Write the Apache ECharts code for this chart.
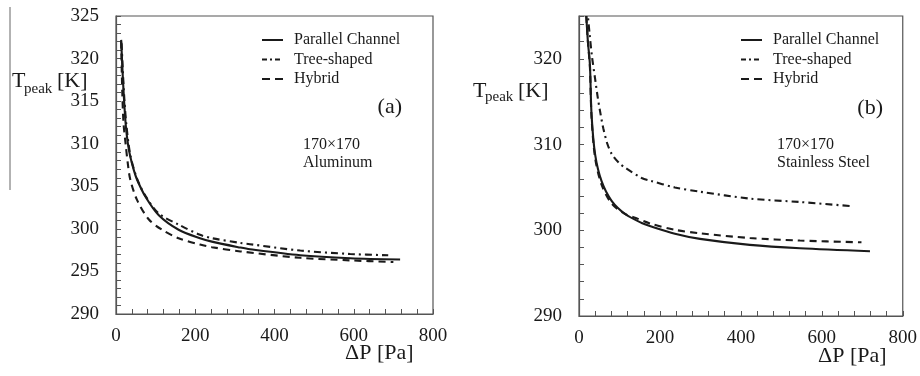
<!DOCTYPE html>
<html>
<head>
<meta charset="utf-8">
<script src="https://cdn.jsdelivr.net/npm/echarts@6/dist/echarts.min.js"></script>
<style>
  html, body { margin: 0; padding: 0; background: #fff; }
  #chart { width: 920px; height: 376px; }
</style>
</head>
<body>
<div id="chart"></div>
<script>
// series names
const seriesNames = ['Parallel Channel', 'Tree-shaped', 'Hybrid'];

// (a) 170x170 Aluminum  — ΔP [Pa] / Tpeak [K]
const aParallelDp = [13, 17, 21, 25, 30, 36, 45, 53, 74, 108, 158, 212, 242, 314, 338, 465, 591, 717];
const aParallelT  = [322.2, 318.0, 314.6, 312.0, 310.0, 308.5, 306.9, 305.8, 303.8, 301.6, 299.9, 298.9, 298.5, 297.8, 297.6, 296.9, 296.55, 296.4];
const aTreeDp = [14, 18, 21, 26, 36, 53, 74, 108, 158, 212, 242, 314, 338, 465, 591, 687];
const aTreeT  = [321.8, 317.8, 315.3, 312.3, 308.7, 305.9, 303.9, 301.8, 300.5, 299.3, 298.9, 298.35, 298.2, 297.45, 297.05, 296.9];
const aHybridDp = [13, 16, 19, 24, 30, 36, 53, 83, 116, 158, 212, 242, 314, 465, 591, 700];
const aHybridT  = [322.0, 315.8, 312.4, 310.1, 307.6, 305.8, 303.4, 301.1, 299.9, 298.9, 298.15, 297.85, 297.35, 296.6, 296.3, 296.1];

// (b) 170x170 Stainless Steel
const bParallelDp = [18, 22, 27, 31, 40, 56, 81, 114, 155, 175, 237, 299, 422, 546, 719];
const bParallelT  = [325, 322, 319.3, 313.5, 308.8, 305.7, 303.4, 301.9, 300.85, 300.5, 299.6, 299.0, 298.3, 297.9, 297.55];
const bTreeDp = [20, 26, 32, 40, 46, 52, 60, 70, 81, 100, 114, 155, 175, 237, 299, 422, 546, 677];
const bTreeT  = [326, 323, 320.3, 317.6, 315.6, 313.9, 311.9, 310.1, 308.9, 307.8, 307.3, 306.1, 305.8, 305.0, 304.5, 303.7, 303.3, 302.8];
const bHybridDp = [18, 22, 27, 31, 40, 56, 81, 114, 142, 175, 237, 299, 422, 546, 698];
const bHybridT  = [325, 322, 319, 313.2, 308.4, 305.3, 303.1, 301.9, 301.4, 300.8, 300.05, 299.65, 299.1, 298.8, 298.6];

// axis ticks
const xMin = 0, xMax = 800, xTickStep = 40, xLabelStep = 200;
const aYMin = 290, aYMax = 325, aYTickStep = 1, aYLabelStep = 5;
const bYMin = 290, bYMax = 325, bYTickStep = 2, bYLabelStep = 10;

const FONT = 'Liberation Serif, Times New Roman, serif';
const INK = '#1a1a1a';
const AXIS = '#555';

const zip = (xs, ys) => xs.map((x, i) => [x, ys[i]]);

// dash patterns for the curves
const dashes = {
  'Parallel Channel': null,
  'Tree-shaped': [7, 4, 2, 4],
  'Hybrid': [7, 5]
};

function makeSeries(name, idx, dp, t) {
  return {
    name: name,
    type: 'line',
    xAxisIndex: idx,
    yAxisIndex: idx,
    data: zip(dp, t),
    smooth: 0.3,
    symbol: 'none',
    clip: true,
    lineStyle: { color: INK, width: 2.1, type: dashes[name] || 'solid' },
    z: name === 'Parallel Channel' ? 3 : 2
  };
}

function xAxis(gridIndex) {
  return {
    type: 'value', gridIndex: gridIndex,
    min: xMin, max: xMax, interval: xTickStep,
    axisLine: { show: true, lineStyle: { color: AXIS, width: 1.2 } },
    axisTick: { show: true, inside: true, length: 5, lineStyle: { color: AXIS } },
    splitLine: { show: false },
    axisLabel: {
      margin: 13, fontSize: 19, fontFamily: FONT, color: INK,
      formatter: v => (v % xLabelStep === 0 ? String(v) : '')
    }
  };
}

function yAxis(gridIndex, min, max, step, labelStep) {
  return {
    type: 'value', gridIndex: gridIndex,
    min: min, max: max, interval: step,
    axisLine: { show: true, lineStyle: { color: AXIS, width: 1.2 } },
    axisTick: { show: true, inside: true, length: 5, lineStyle: { color: AXIS } },
    splitLine: { show: false },
    axisLabel: {
      margin: 17, fontSize: 19, fontFamily: FONT, color: INK,
      formatter: v => (v % labelStep === 0 ? String(v) : '')
    }
  };
}

function txt(x, y, text, size, align) {
  return {
    type: 'text', x: x, y: y,
    style: { text: text, fontSize: size, fontFamily: FONT, fill: INK, align: align || 'left', verticalAlign: 'middle' }
  };
}

// legend keys drawn as short line samples + labels
function legendKeys(x0, y0) {
  const out = [];
  seriesNames.forEach((name, i) => {
    const y = y0 + i * 19.5;
    out.push({
      type: 'line',
      shape: { x1: x0, y1: y, x2: x0 + 21, y2: y },
      style: { stroke: INK, lineWidth: 2, lineDash: name === 'Tree-shaped' ? [5, 3, 2, 3] : (name === 'Hybrid' ? [8, 5] : null) }
    });
    out.push(txt(x0 + 32, y, name, 16));
  });
  return out;
}

const chart = echarts.init(document.getElementById('chart'), null, { renderer: 'canvas' });

chart.setOption({
  backgroundColor: '#fff',
  animation: false,
  grid: [
    { left: 116, top: 16, width: 317, height: 298, show: true, borderColor: AXIS, borderWidth: 1.2, backgroundColor: 'transparent' },
    { left: 579, top: 16, width: 324, height: 300, show: true, borderColor: AXIS, borderWidth: 1.2, backgroundColor: 'transparent' }
  ],
  xAxis: [xAxis(0), xAxis(1)],
  yAxis: [
    yAxis(0, aYMin, aYMax, aYTickStep, aYLabelStep),
    yAxis(1, bYMin, bYMax, bYTickStep, bYLabelStep)
  ],
  series: [
    makeSeries('Parallel Channel', 0, aParallelDp, aParallelT),
    makeSeries('Tree-shaped', 0, aTreeDp, aTreeT),
    makeSeries('Hybrid', 0, aHybridDp, aHybridT),
    makeSeries('Parallel Channel', 1, bParallelDp, bParallelT),
    makeSeries('Tree-shaped', 1, bTreeDp, bTreeT),
    makeSeries('Hybrid', 1, bHybridDp, bHybridT)
  ],
  graphic: [
    // stray frame line at far left of the original figure
    { type: 'line', shape: { x1: 10, y1: 7, x2: 10, y2: 190 }, style: { stroke: '#666', lineWidth: 1 } },
    // y axis names
    txt(12, 81, 'T', 22), txt(24, 89, 'peak', 15), txt(57, 81, '[K]', 22),
    txt(473, 91, 'T', 22), txt(485, 97, 'peak', 15), txt(518, 91, '[K]', 22),
    // x axis names
    txt(345, 353, 'ΔP [Pa]', 22), txt(818, 356, 'ΔP [Pa]', 22),
    // panel tags
    txt(402, 107, '(a)', 22, 'right'), txt(883, 108, '(b)', 22, 'right'),
    // annotations
    txt(303, 145, '170×170', 16), txt(303, 163, 'Aluminum', 16),
    txt(777, 145, '170×170', 16), txt(777, 163, 'Stainless Steel', 16)
  ].concat(legendKeys(262, 40), legendKeys(741, 40))
});
</script>
</body>
</html>
